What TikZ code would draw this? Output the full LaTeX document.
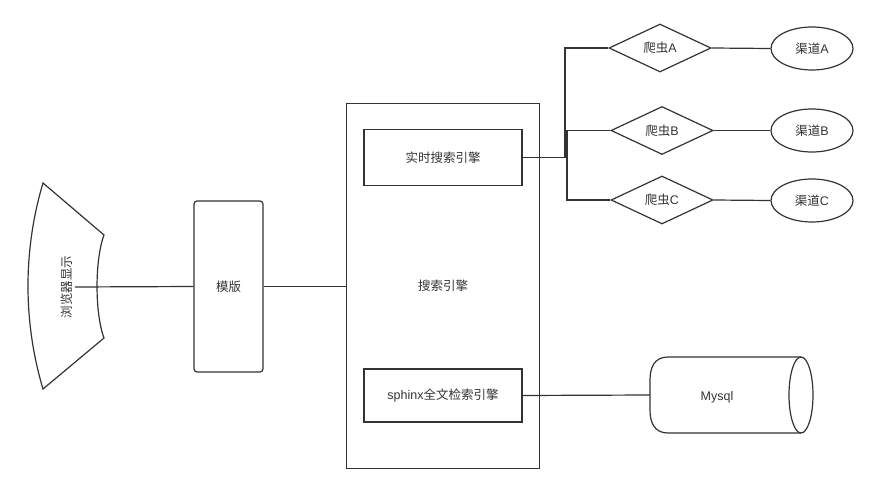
\documentclass[tikz,border=0pt]{standalone}
\usepackage{fontspec}
\setmainfont{Liberation Sans}
\newfontfamily\cjk{Noto Sans CJK SC}
\usetikzlibrary{shapes.geometric}
\definecolor{ink}{HTML}{333333}
\tikzset{
  every node/.style={text=ink, font=\fontsize{12.5}{14}\selectfont},
  ln/.style={draw=ink, line width=1.2pt},
  crawl/.style={ln, diamond, aspect=2.1, minimum width=102pt, minimum height=48pt, inner sep=0pt},
  chan/.style={ln, ellipse, minimum width=82pt, minimum height=43pt, inner sep=0pt},
}
\begin{document}
\begin{tikzpicture}[x=1pt,y=-1pt]
\useasboundingbox (0,0) rectangle (878,494);
% browser shape
\draw[ln] (43,183) -- (104,235) .. controls (94.7,260) and (94.7,313) .. (104,338)
  -- (43,389) .. controls (23,322) and (23,250) .. (43,183) -- cycle;
\node[rotate=90] (br) at (67,287) {\cjk 浏览器显示};
\coordinate (brc) at (75,287);
% template
\node[ln, rectangle, rounded corners=3pt, minimum width=69pt, minimum height=171pt, inner sep=0pt] (tpl) at (228.5,286.5) {\cjk 模版};
% search engine
\node[ln, rectangle, minimum width=193pt, minimum height=365pt, inner sep=0pt] (se) at (443,286) {\cjk 搜索引擎};
\node[ln, rectangle, minimum width=158pt, minimum height=56pt, inner sep=0pt] (rt) at (443,157.5) {\cjk 实时搜索引擎};
\node[ln, rectangle, minimum width=158pt, minimum height=53pt, inner sep=0pt] (sx) at (443,395.5) {sphinx{\cjk 全文检索引擎}};
% crawlers
\node[crawl] (pa) at (660,48) {{\cjk 爬虫}A};
\node[crawl] (pb) at (662,130.5) {{\cjk 爬虫}B};
\node[crawl] (pc) at (662,200) {{\cjk 爬虫}C};
\node[chan] (ca) at (812,48.5) {{\cjk 渠道}A};
\node[chan] (cb) at (812,130.5) {{\cjk 渠道}B};
\node[chan] (cc) at (812,200.5) {{\cjk 渠道}C};
% mysql cylinder
\draw[ln] (801,357) -- (668,357) .. controls (654,357) and (650,368) .. (650,380) -- (650,410)
  .. controls (650,422) and (654,433) .. (668,433) -- (801,433);
\draw[ln] (801,395) ellipse [x radius=12, y radius=38];
\node (my) at (717,397) {Mysql};
\coordinate (myw) at (650,395);
% connectors
\coordinate (jA) at (565,157.5);
\coordinate (jB) at (567,157.5);
\draw[ln] (brc) -- (tpl.west);
\draw[ln] (tpl.east) -- (se.west |- tpl.east);
\draw[ln] (rt.east) -- (jA) |- (pa.west);
\draw[ln] (rt.east) -- (jB) |- (pb.west);
\draw[ln] (rt.east) -- (jB) |- (pc.west);
\draw[ln] (pa.east) -- (ca.west);
\draw[ln] (pb.east) -- (cb.west);
\draw[ln] (pc.east) -- (cc.west);
\draw[ln] (sx.east) -- (myw);
\end{tikzpicture}
\end{document}
